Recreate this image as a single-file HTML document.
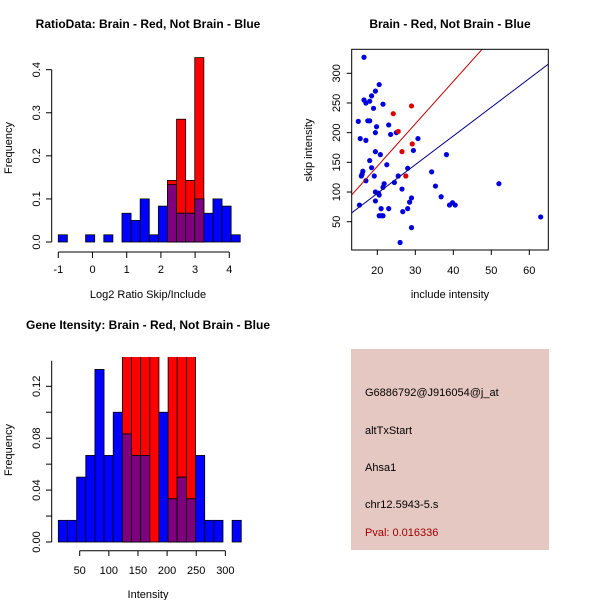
<!DOCTYPE html>
<html><head><meta charset="utf-8"><style>
html,body{margin:0;padding:0;background:#fff;}
svg{display:block;font-family:"Liberation Sans",sans-serif;}
</style></head><body>
<svg id="c" width="600" height="600" viewBox="0 0 600 600">
<g id="p1"></g>
<g id="p2"></g>
<g id="p3"></g>
<g id="p4">
<rect x="351" y="349" width="198" height="201" fill="#e6c8c2"/>
<text x="365" y="396" font-size="11">G6886792@J916054@j_at</text>
<text x="365" y="434" font-size="11">altTxStart</text>
<text x="365" y="471" font-size="11">Ahsa1</text>
<text x="365" y="508" font-size="11">chr12.5943-5.s</text>
<text x="365" y="536" font-size="11" fill="#a00000">Pval: 0.016336</text>
</g>
</svg>
<script>
// ---- panel 1 data
const ratioBinStart = -1;
const ratioBinWidth = 0.266;
const ratioBlue = [0.0167,0,0,0.0167,0,0.0167,0,0.0667,0.05,0.1,0.0167,0.0833,0.133,0.0667,0.0667,0.1,0.0667,0.1,0.0833,0.0167];
const ratioRed = [0,0,0,0,0,0,0,0,0,0,0,0,0.143,0.285,0.143,0.428,0,0,0,0];
const ratioXTicks = [-1,0,1,2,3,4];
const ratioYTicks = [0,0.1,0.2,0.3,0.4];
// ---- panel 2 data
const blueInclude = [16.5,15,15.5,16,16.2,15.8,17,16.5,17,17.5,18,18,18.5,19,19.5,19.5,19.8,19.5,18.5,19.2,18,17,15.3,19.5,19.5,20.5,20.3,20.5,21.5,20.8,20.5,21,21.5,21,21.5,21.8,22.5,23,23,23.5,25,24.5,25.5,26.5,26,26.7,28,28,28.5,29,29,29.5,30.7,34.3,35.3,36.8,38.2,39,39.8,40.5,52,63];
const blueSkip = [327,219,190,130,135,127,187,255,250,220,220,253,262,241,270,200,210,168,141,127,153,119,78,100,85,95,98,281,248,163,60,60,60,72,108,114,146,213,72,197,200,116,127,105,15,67,140,72,83,90,40,170,190,134,110,92,163,78,82,78,114,58];
const redInclude = [24.2,29,29.2,26.5,27.5,25.5];
const redSkip = [232,245,181,168,127,202];
const redFit = [0.3,7.15];
const blueFit = [0.8,4.84];
const scatXTicks = [20,30,40,50,60];
const scatYTicks = [50,100,150,200,250,300];
// ---- panel 3 data
const intBinStart = 13.3;
const intBinWidth = 15.7;
const intBlue = [0.0167,0.0167,0.05,0.0667,0.133,0.0667,0.1,0.0833,0.0667,0.0667,0,0.1,0.0333,0.05,0.0333,0.0667,0.0167,0.0167,0,0.0167];
const intRed = [0,0,0,0,0,0,0,0.2,0.2,0.2,0.2,0,0.2,0.2,0.2,0,0,0,0,0];
const intXTicks = [50,100,150,200,250,300];
const intYTicks = [0,0.02,0.04,0.06,0.08,0.1,0.12];
const intYLabels = ["0.00","","0.04","","0.08","","0.12"];

const NS="http://www.w3.org/2000/svg";
function mk(parent,tag,attrs,text){const e=document.createElementNS(NS,tag);for(const k in attrs)e.setAttribute(k,attrs[k]);if(text!==undefined)e.textContent=text;parent.appendChild(e);return e;}

// ---------- panel 1
(function(){
const g=document.getElementById('p1');
const sx=v=>58.3+(v+1)*34.2, sy=v=>242-v*430.8;
ratioBlue.forEach((b,i)=>{
 const x0=sx(ratioBinStart+i*ratioBinWidth), x1=sx(ratioBinStart+(i+1)*ratioBinWidth);
 const r=ratioRed[i], m=Math.min(b,r);
 if(r>0){const e=mk(g,'rect',{x:x0,y:sy(r),width:x1-x0,height:sy(0)-sy(r),fill:'#ff0000',stroke:'#000','stroke-width':0.8});
 
 }
 if(b>0){const e=mk(g,'rect',{x:x0,y:sy(b),width:x1-x0,height:sy(0)-sy(b),fill:'#0000ff',stroke:'#000','stroke-width':0.8});
 
 }
 if(m>0){const e=mk(g,'rect',{x:x0,y:sy(m),width:x1-x0,height:sy(0)-sy(m),fill:'#7f007f',stroke:'#000','stroke-width':0.8});
 
 }
});
mk(g,'line',{x1:51.7,x2:51.7,y1:sy(0),y2:sy(0.4),stroke:'#000'});
ratioYTicks.forEach(t=>{mk(g,'line',{x1:46,x2:51.7,y1:sy(t),y2:sy(t),stroke:'#000'});
 const e=mk(g,'text',{x:40,y:sy(t),'font-size':11,'text-anchor':'middle',transform:`rotate(-90 40 ${sy(t)})`},String(t===0?'0.0':t));
 
 });
mk(g,'line',{x1:sx(-1),x2:sx(4),y1:252,y2:252,stroke:'#000'});
ratioXTicks.forEach(t=>{mk(g,'line',{x1:sx(t),x2:sx(t),y1:252,y2:258,stroke:'#000'});
 const e=mk(g,'text',{x:sx(t),y:273,'font-size':11,'text-anchor':'middle'},String(t));
 
 });
let e=mk(g,'text',{x:148,y:28,'font-size':12,'font-weight':'bold','text-anchor':'middle'},'RatioData: Brain - Red, Not Brain - Blue');

e=mk(g,'text',{x:148,y:298,'font-size':11,'text-anchor':'middle'},'Log2 Ratio Skip/Include');

e=mk(g,'text',{x:12,y:148,'font-size':11,'text-anchor':'middle',transform:'rotate(-90 12 148)'},'Frequency');

})();

// ---------- panel 2
(function(){
const g=document.getElementById('p2');
const sx=v=>377.3+(v-20)*3.8, sy=v=>73.3+(300-v)*0.5936;
const L=351.7,R=548.3,T=49.3,B=250;
mk(g,'clipPath',{id:'clip2'});
mk(document.getElementById('clip2'),'rect',{x:L,y:T,width:R-L,height:B-T});
const gl=mk(g,'g',{'clip-path':'url(#clip2)'});
blueInclude.forEach((x,i)=>{const e=mk(gl,'circle',{cx:sx(x),cy:sy(blueSkip[i]),r:2.6,fill:'#0000dd'});
 
 });
redInclude.forEach((x,i)=>{const e=mk(gl,'circle',{cx:sx(x),cy:sy(redSkip[i]),r:2.6,fill:'#dd0000'});
 
 });
[[redFit,'#c00000','red-fit-line'],[blueFit,'#00008b','blue-fit-line']].forEach(([f,c,n])=>{
 const e=mk(gl,'line',{x1:sx(10),y1:sy(f[0]+f[1]*10),x2:sx(70),y2:sy(f[0]+f[1]*70),stroke:c,'stroke-width':1});
 
 });
mk(g,'rect',{x:L,y:T,width:R-L,height:B-T,fill:'none',stroke:'#000'});
scatXTicks.forEach(t=>{mk(g,'line',{x1:sx(t),x2:sx(t),y1:B,y2:B+5,stroke:'#000'});
 const e=mk(g,'text',{x:sx(t),y:274,'font-size':11,'text-anchor':'middle'},String(t));
 
 });
scatYTicks.forEach(t=>{mk(g,'line',{x1:L-5,x2:L,y1:sy(t),y2:sy(t),stroke:'#000'});
 const e=mk(g,'text',{x:340,y:sy(t),'font-size':11,'text-anchor':'middle',transform:`rotate(-90 340 ${sy(t)})`},String(t));
 
 });
let e=mk(g,'text',{x:450,y:28,'font-size':12,'font-weight':'bold','text-anchor':'middle'},'Brain - Red, Not Brain - Blue');

e=mk(g,'text',{x:450,y:298,'font-size':11,'text-anchor':'middle'},'include intensity');

e=mk(g,'text',{x:312,y:150,'font-size':11,'text-anchor':'middle',transform:'rotate(-90 312 150)'},'skip intensity');

})();

// ---------- panel 3
(function(){
const g=document.getElementById('p3');
const sx=v=>79.7+(v-50)*0.5827, sy=v=>542-v*1297.5;
mk(g,'clipPath',{id:'clip3'});
mk(document.getElementById('clip3'),'rect',{x:40,y:357,width:220,height:190});
const gb=mk(g,'g',{'clip-path':'url(#clip3)'});
intBlue.forEach((b,i)=>{
 const x0=sx(intBinStart+i*intBinWidth), x1=sx(intBinStart+(i+1)*intBinWidth);
 const r=intRed[i], m=Math.min(b,r);
 if(r>0){const e=mk(gb,'rect',{x:x0,y:sy(r),width:x1-x0,height:sy(0)-sy(r),fill:'#ff0000',stroke:'#000','stroke-width':0.8});
 
 }
 if(b>0){const e=mk(gb,'rect',{x:x0,y:sy(b),width:x1-x0,height:sy(0)-sy(b),fill:'#0000ff',stroke:'#000','stroke-width':0.8});
 
 }
 if(m>0){const e=mk(gb,'rect',{x:x0,y:sy(m),width:x1-x0,height:sy(0)-sy(m),fill:'#7f007f',stroke:'#000','stroke-width':0.8});
 
 }
});
mk(g,'line',{x1:51.7,x2:51.7,y1:sy(0),y2:360.7,stroke:'#000'});
intYTicks.forEach((t,i)=>{mk(g,'line',{x1:46,x2:51.7,y1:sy(t),y2:sy(t),stroke:'#000'});
 if(intYLabels[i]){const e=mk(g,'text',{x:40,y:sy(t),'font-size':11,'text-anchor':'middle',transform:`rotate(-90 40 ${sy(t)})`},intYLabels[i]);
 
 }});
mk(g,'line',{x1:sx(50),x2:sx(300),y1:550.7,y2:550.7,stroke:'#000'});
intXTicks.forEach(t=>{mk(g,'line',{x1:sx(t),x2:sx(t),y1:550.7,y2:556,stroke:'#000'});
 const e=mk(g,'text',{x:sx(t),y:574,'font-size':11,'text-anchor':'middle'},String(t));
 
 });
let e=mk(g,'text',{x:148,y:329,'font-size':12,'font-weight':'bold','text-anchor':'middle'},'Gene Itensity: Brain - Red, Not Brain - Blue');

e=mk(g,'text',{x:148,y:598,'font-size':11,'text-anchor':'middle'},'Intensity');

e=mk(g,'text',{x:12,y:450,'font-size':11,'text-anchor':'middle',transform:'rotate(-90 12 450)'},'Frequency');

})();
</script>
</body></html>
